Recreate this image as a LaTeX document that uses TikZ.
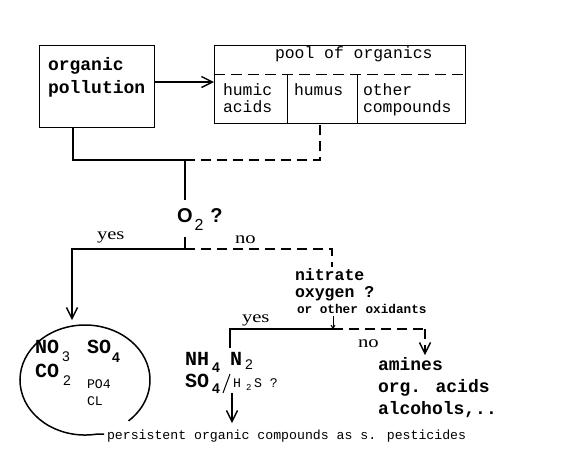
\documentclass[tikz,border=0pt]{standalone}
\usepackage{fontspec}
\usetikzlibrary{arrows.meta}
\newfontfamily\monof{Liberation Mono}
\newfontfamily\sansf{Liberation Sans}
\newfontfamily\yesf[FakeStretch=1.25]{Liberation Serif}
\tikzset{
 t/.style={inner sep=0pt, outer sep=0pt, anchor=base west},
 bigb/.style={t, font=\monof\bfseries\fontsize{18}{21}\selectfont},
 midb/.style={t, font=\monof\bfseries\fontsize{16.5}{19}\selectfont},
 pooltxt/.style={t, font=\monof\fontsize{16.4}{19}\selectfont},
 chem/.style={t, font=\monof\bfseries\fontsize{20}{24}\selectfont},
 subs/.style={t, font=\sansf\fontsize{14}{16}\selectfont},
 subb/.style={t, font=\sansf\bfseries\fontsize{14}{16}\selectfont},
 smalltxt/.style={t, font=\monof\fontsize{13.2}{15}\selectfont},
 smallb/.style={t, font=\monof\bfseries\fontsize{12.7}{15}\selectfont},
 yn/.style={t, font=\yesf\fontsize{16.5}{18}\selectfont},
 conn/.style={line width=1.6pt},
 dconn/.style={line width=1.5pt, dash pattern=on 10pt off 6pt},
 tip/.style={-{Straight Barb[length=11pt,width=11pt,line width=1.4pt]}},
 box/.style={draw, line width=1pt, inner sep=0pt},
}
\begin{document}
\begin{tikzpicture}[x=1pt,y=-1pt]
\useasboundingbox[fill=white] (0,0) rectangle (576,451);
% organic pollution box
\node[box, minimum width=115pt, minimum height=82pt, anchor=north west] (op) at (39,45) {};
\node[bigb] (op1) at (48,70) {organic};
\node[bigb] (op2) at (48,93) {pollution};
% pool box
\node[box, minimum width=251pt, minimum height=78pt, anchor=north west] (pool) at (214,45) {};
\draw[line width=1pt, dash pattern=on 11pt off 6pt] (214,74) -- (465,74);
\draw[line width=1pt] (287,74) -- (287,123) (357,74) -- (357,123);
\node[pooltxt] (pt) at (275,58) {pool of organics};
\node[pooltxt] (hu1) at (223,95) {humic};
\node[pooltxt] (hu2) at (223,112) {acids};
\node[pooltxt] (hm) at (294,95) {humus};
\node[pooltxt] (ot1) at (363,95) {other};
\node[pooltxt] (ot2) at (363,112) {compounds};
% arrow to pool
\draw[line width=2.6pt, tip] (op.east |- 0,82) -- (pool.west |- 0,82);
% junctions
\coordinate (j1) at (73,160);
\coordinate (j2) at (185,160);
\coordinate (j3) at (320,160);
\draw[conn] (op.south -| j1) -- (j1) -- (j2);
\draw[dconn] (j2) -- (j3) -- (pool.south -| j3);
% O2 ?
\node[t, font=\sansf\bfseries\fontsize{20}{22}\selectfont] (o2) at (177,222) {O\kern2pt\raisebox{-8pt}{\mdseries\fontsize{16}{16}\selectfont 2}\hspace{7pt}?};
\coordinate (o2top) at (185,200);
\coordinate (o2bot) at (185,237);
\draw[conn] (j2) -- (o2top);
\coordinate (j4) at (185,249);
\coordinate (j5) at (72,249);
\coordinate (a1) at (72,320);
\coordinate (j6) at (332,249);
\coordinate (j7) at (332,267);
\draw[conn] (o2bot) -- (j4);
\draw[conn, tip] (j4) -- (j5) -- (a1);
\draw[dconn] (j4) -- (j6) -- (j7);
\node[yn] (yes1) at (97,239) {yes};
\node[yn] (no1) at (235,243) {no};
% nitrate
\node[midb] (nit1) at (295,280) {nitrate};
\node[midb] (nit2) at (295,297) {oxygen ?};
\node[smallb] (nit3) at (297,313) {or other oxidants};
\coordinate (sa1) at (333,316);
\coordinate (sa2) at (333,329);
\draw[line width=1pt, -{Straight Barb[length=3pt,width=4pt]}] (sa1) -- (sa2);
\coordinate (k0) at (230,348);
\coordinate (k1) at (230,329);
\coordinate (k2) at (333,329);
\coordinate (k3) at (425,329);
\coordinate (k4) at (425,355);
\draw[conn] (k0) -- (k1) -- (k2);
\draw[dconn] (k2) -- (k3);
\draw[dconn, tip] (k3) -- (k4);
\node[yn] (yes2) at (242,322) {yes};
\node[yn] (no2) at (358,347) {no};
% ellipse products
\draw[line width=1.5pt] (104,434) -- (97.4,434) arc[start angle=79, end angle=408, x radius=65, y radius=55];
\node[chem] (no3) at (35,353) {NO};
\node[subs] (no3s) at (62,361) {3};
\node[chem] (so4) at (87,353) {SO};
\node[subb] (so4s) at (112,362) {4};
\node[chem] (co2) at (35,377) {CO};
\node[subs] (co2s) at (63,385) {2};
\node[smalltxt] (po4) at (87,388) {PO4};
\node[smalltxt] (cl) at (87,405) {CL};
% anaerobic with nitrate
\node[chem] (nh4) at (185,365) {NH};
\node[subb] (nh4s) at (212,372) {4};
\node[chem] (n2) at (230,365) {N};
\node[subs] (n2s) at (245,369) {2};
\node[chem] (so4b) at (185,387) {SO};
\node[subb] (so4bs) at (212,393) {4};
\draw[line width=1pt] (223,393) -- (230,374);
\node[smalltxt] (h2s1) at (233,387) {H};
\node[t, font=\monof\fontsize{9}{10}\selectfont] (h2s2) at (246,390) {2};
\node[smalltxt] (h2s3) at (254,387) {S ?};
\coordinate (m1) at (232,393);
\coordinate (m2) at (232,423);
\draw[conn, tip] (m1) -- (m2);
% no oxidants
\node[bigb] (am) at (378,370) {amines};
\node[bigb] (oa) at (378,392) {org. acids};
\node[bigb] (al) at (378,414) {alcohols,..};
% persistent
\node[smalltxt] (pers) at (107,439) {persistent organic compounds as s. pesticides};
\end{tikzpicture}
\end{document}
